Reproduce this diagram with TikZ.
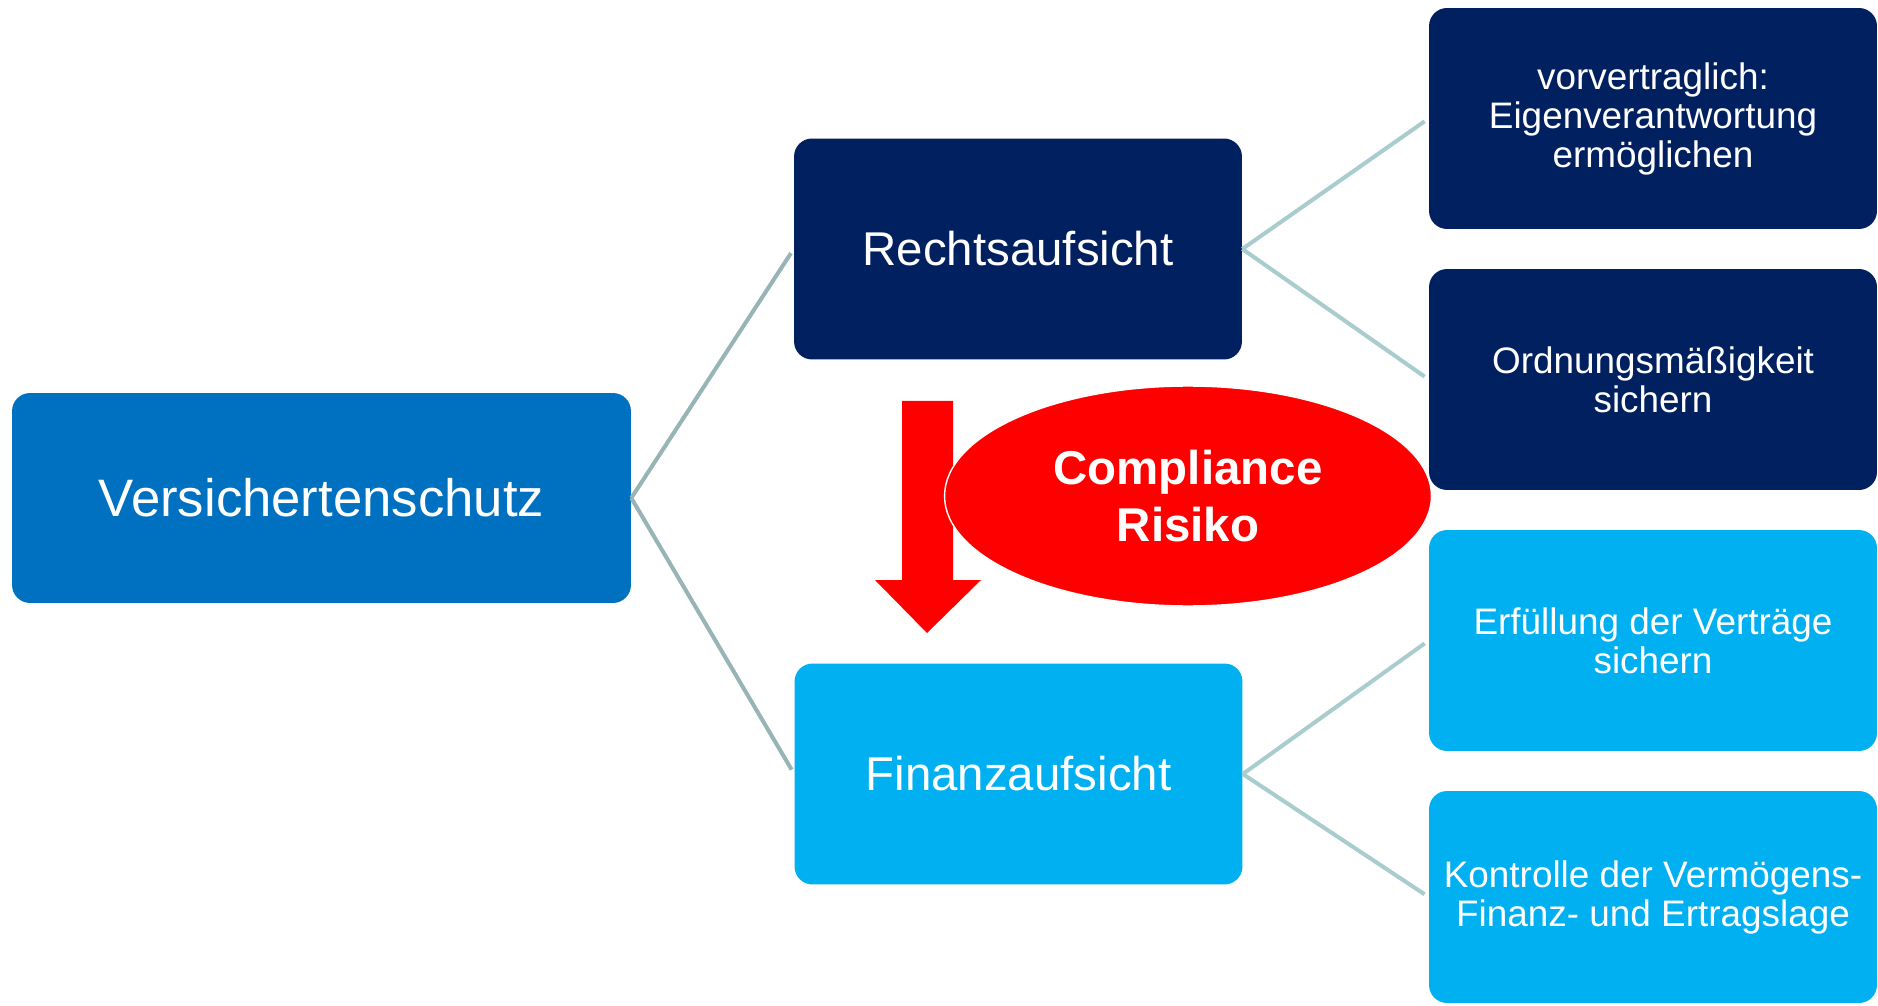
\documentclass[tikz,border=0pt]{standalone}
\usepackage{fontspec}
\setmainfont{Liberation Sans}
\usetikzlibrary{shapes.geometric}
\definecolor{navy}{HTML}{002060}
\definecolor{midblue}{HTML}{0070C0}
\definecolor{lightblue}{HTML}{00B0F0}
\definecolor{linkgray}{HTML}{98B4B6}
\definecolor{linklight}{HTML}{A9CDCF}
\tikzset{
  box/.style={rounded corners=0.36cm, inner sep=0pt, text=white, align=center},
  mainbox/.style={box, minimum width=8.96cm, minimum height=4.42cm, font=\fontsize{27}{32}\selectfont},
  subbox/.style={box, minimum width=8.96cm, minimum height=4.42cm, font=\fontsize{21}{22.2}\selectfont},
  link/.style={line width=2.3pt, shorten >=0.1cm},
}
\begin{document}
\begin{tikzpicture}[x=0.02cm, y=-0.02cm]
\useasboundingbox (0,0) rectangle (1878,1006);
%
\node[box, fill=midblue, minimum width=12.38cm, minimum height=4.2cm,
  font=\fontsize{30}{36}\selectfont] (schutz) at (321.5,498) {Versichertenschutz};
\node[mainbox, fill=navy] (recht) at (1018,249) {Rechtsaufsicht};
\node[mainbox, fill=lightblue] (finanz) at (1018.5,774) {Finanzaufsicht};
%
\node[subbox, fill=navy] (vorv) at (1653,118.5) {vorvertraglich:\\Eigenverantwortung\\ermöglichen};
\node[subbox, fill=navy] (ordn) at (1653,379.5) {Ordnungsmäßigkeit\\sichern};
\node[subbox, fill=lightblue] (erf) at (1653,640.5) {Erfüllung der Verträge\\sichern};
\node[subbox, fill=lightblue, minimum height=4.24cm] (kontr) at (1653,897) {Kontrolle der Vermögens-\\Finanz- und Ertragslage};
%
\draw[link, linkgray] (schutz.east) -- (recht.west);
\draw[link, linkgray] (schutz.east) -- (finanz.west);
\draw[link, linklight] (recht.east) -- (vorv.west);
\draw[link, linklight] (recht.east) -- (ordn.west);
\draw[link, linklight] (finanz.east) -- (erf.west);
\draw[link, linklight] (finanz.east) -- (kontr.west);
% Pfeil
\fill[red] (902,401) -- (953,401) -- (953,580) -- (981,580) -- (927,633)
  -- (875,580) -- (902,580) -- cycle;
\node[ellipse, fill=red, draw=white, line width=0.8pt, minimum width=9.74cm,
  minimum height=4.4cm, inner sep=0pt, text=white, align=center,
  font=\bfseries\fontsize{27}{32}\selectfont] (risiko) at (1188,496) {Compliance\\Risiko};
\end{tikzpicture}
\end{document}
